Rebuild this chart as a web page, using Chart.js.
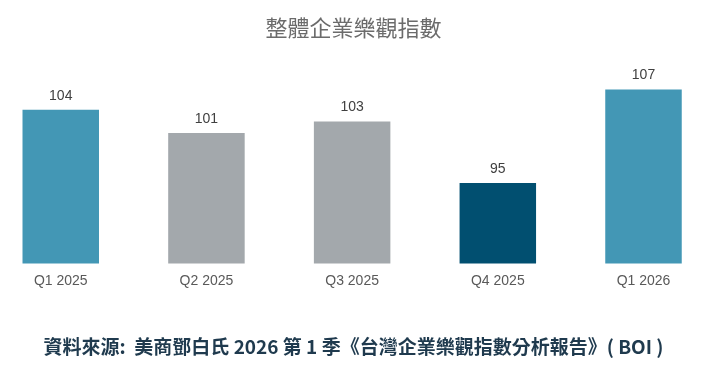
<!DOCTYPE html>
<html><head><meta charset="utf-8">
<script src="https://cdn.jsdelivr.net/npm/chart.js@4/dist/chart.umd.min.js"></script>
<style>html,body{margin:0;padding:0;background:#fff}#wrap{width:720px;height:381px}</style>
</head><body><div id="wrap"><canvas id="c"></canvas></div>
<script>
const categories = ['Q1 2025','Q2 2025','Q3 2025','Q4 2025','Q1 2026'];
const values = [104.4, 101.4, 102.9, 95.0, 107.0];
const valueLabels = ['104','101','103','95','107'];
const barColors = ['#4397b5','#a3a8ac','#a3a8ac','#014f70','#4397b5'];
const yMin = 84.72;
const yMax = 109.43;
const titleText = '整體企業樂觀指數';
const sourceText = '資料來源:  美商鄧白氏 2026 第 1 季《台灣企業樂觀指數分析報告》( BOI )';

const valueLabelPlugin = {
  id: 'valueLabels',
  afterDatasetsDraw(chart) {
    const ctx = chart.ctx;
    const meta = chart.getDatasetMeta(0);
    ctx.save();
    ctx.font = '14px "Liberation Sans", Arial, sans-serif';
    ctx.fillStyle = '#404040';
    ctx.textAlign = 'center';
    ctx.textBaseline = 'middle';
    meta.data.forEach((bar, i) => {
      ctx.fillText(valueLabels[i], bar.x, bar.y - 14);
    });
    ctx.restore();
  }
};

const hiddenAxis = (pos, w) => ({
  position: pos,
  display: true,
  min: yMin,
  max: yMax,
  grid: { display: false, drawTicks: false },
  border: { display: false },
  ticks: { display: false },
  afterFit(scale) { scale.width = w; }
});

new Chart(document.getElementById('c'), {
  type: 'bar',
  data: {
    labels: categories,
    datasets: [{
      data: values,
      base: yMin,
      backgroundColor: barColors,
      borderWidth: 0,
      categoryPercentage: 1,
      barPercentage: 0.525,
      clip: false
    }]
  },
  options: {
    responsive: true,
    maintainAspectRatio: false,
    animation: false,
    layout: { padding: { left: 2, right: 15, top: 14, bottom: 12 } },
    plugins: {
      legend: { display: false },
      tooltip: { enabled: false },
      title: {
        display: true, text: titleText, color: '#6b6b6b',
        font: { family: '"Noto Sans CJK TC", sans-serif', size: 22, weight: 'normal', lineHeight: 1.2 },
        padding: { top: 0, bottom: 30 }
      },
      subtitle: {
        display: true, position: 'bottom', text: sourceText, color: '#1f3a4e',
        font: { family: '"Noto Sans CJK TC", sans-serif', size: 19, weight: 'bold', lineHeight: 1.2 },
        padding: { top: 37.4, bottom: 10.6 }
      }
    },
    scales: {
      x: {
        offset: false,
        grid: { display: false, drawTicks: false },
        border: { display: false },
        ticks: { color: '#595959', padding: 9, font: { family: '"Liberation Sans", Arial, sans-serif', size: 14 } }
      },
      y: hiddenAxis('left', 58.75),
      yRight: hiddenAxis('right', 61.5)
    }
  },
  plugins: [valueLabelPlugin]
});
</script></body></html>
